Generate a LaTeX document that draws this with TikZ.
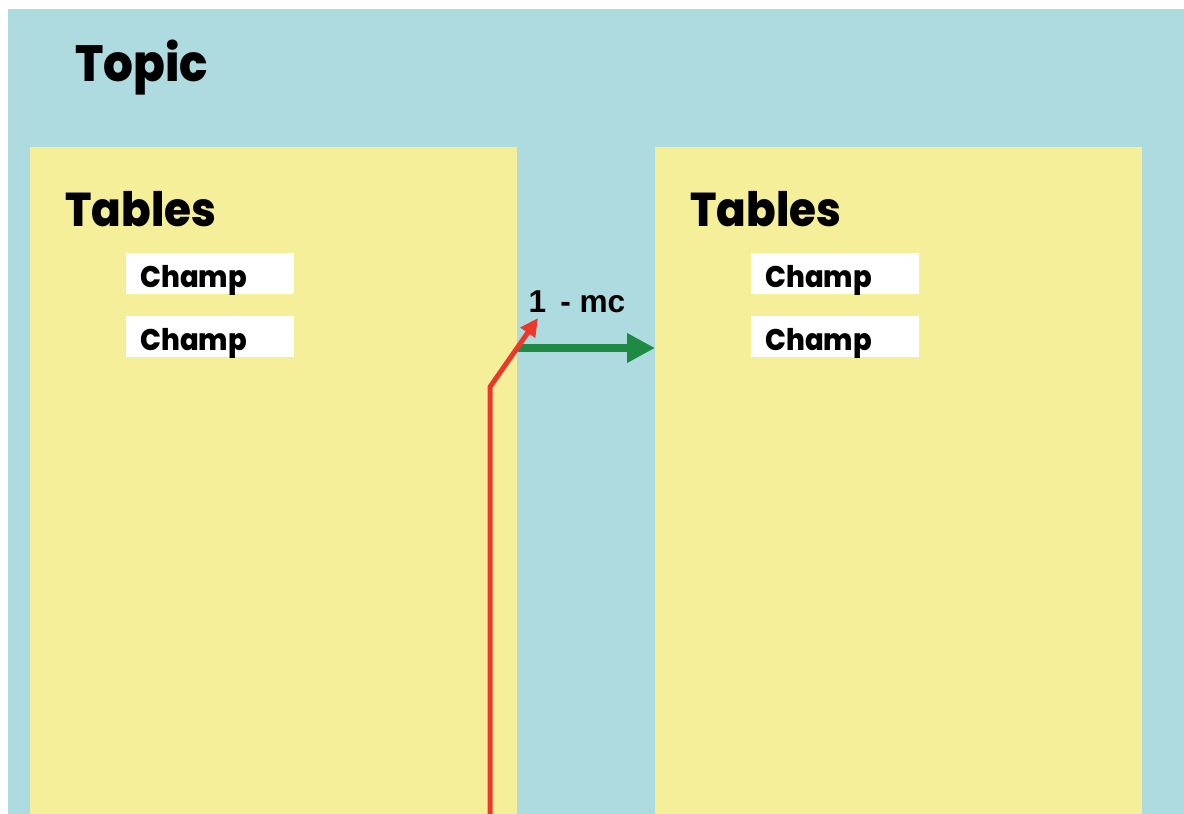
\documentclass[tikz,border=0pt]{standalone}
\usepackage{fontspec}
\setmainfont{Liberation Sans}
\newfontfamily\titlefont[FakeStretch=0.92, BoldFont={Poppins ExtraBold}]{Poppins}
\usetikzlibrary{arrows.meta}
\definecolor{topicblue}{RGB}{173,219,224}
\definecolor{tableyellow}{RGB}{244,239,152}
\definecolor{linkred}{RGB}{236,56,42}
\definecolor{linkgreen}{RGB}{30,138,68}
\tikzset{
  table/.style={fill=tableyellow, inner sep=0pt, anchor=north west,
    minimum width=9.74cm, minimum height=13.4cm},
  champ/.style={fill=white, anchor=north west, inner xsep=0.28cm, inner ysep=0pt,
    text width=2.8cm, align=left, minimum height=0.82cm,
    text height=0.54cm, text depth=0cm,
    font=\titlefont\bfseries\fontsize{17}{18}\selectfont},
  heading/.style={anchor=base west, inner sep=0pt,
    font=\titlefont\bfseries\fontsize{27}{30}\selectfont}
}

\begin{document}
\begin{tikzpicture}[x=0.02cm, y=-0.02cm]
\useasboundingbox (0,0) rectangle (1184,814);
%%% topic background
\fill[topicblue] (8,9) rectangle (1184,814);
\node[heading, font=\titlefont\bfseries\fontsize{29}{30}\selectfont] (topic) at (75,82) {Topic};
%%% draws the two tables
\node[table] (leftT) at (30,147) {};
\node[table] (rightT) at (655,147) {};
% labels tables
\node[heading] (leftTitle) at (65,227) {Tables};
\node[heading] (rightTitle) at (690,227) {Tables};
% draws fields
\node[champ] (lc1) at (126,253) {Champ};
\node[champ] (lc2) at (126,316) {Champ};
\node[champ] (rc1) at (751,253) {Champ};
\node[champ] (rc2) at (751,316) {Champ};
%%% draws the link
\node[font=\bfseries\fontsize{18}{20}\selectfont, inner sep=0pt] (card) at (577,302) {1\, - mc};
\coordinate (linkStart) at (leftT.east |- 0,348);
\draw[linkgreen, line width=0.16cm, -{Triangle[length=0.56cm, width=0.56cm]}]
  (linkStart) -- (rightT.west |- linkStart);
% red pointer to the cardinality
\coordinate (redFoot) at (490,814);
\coordinate (redBend) at (490,387);
\coordinate (redTip) at (538,318);
\draw[linkred, line width=0.1cm, -{Triangle[length=0.36cm, width=0.34cm]}]
  (redFoot) -- (redBend) -- (redTip);
\end{tikzpicture}
\end{document}
